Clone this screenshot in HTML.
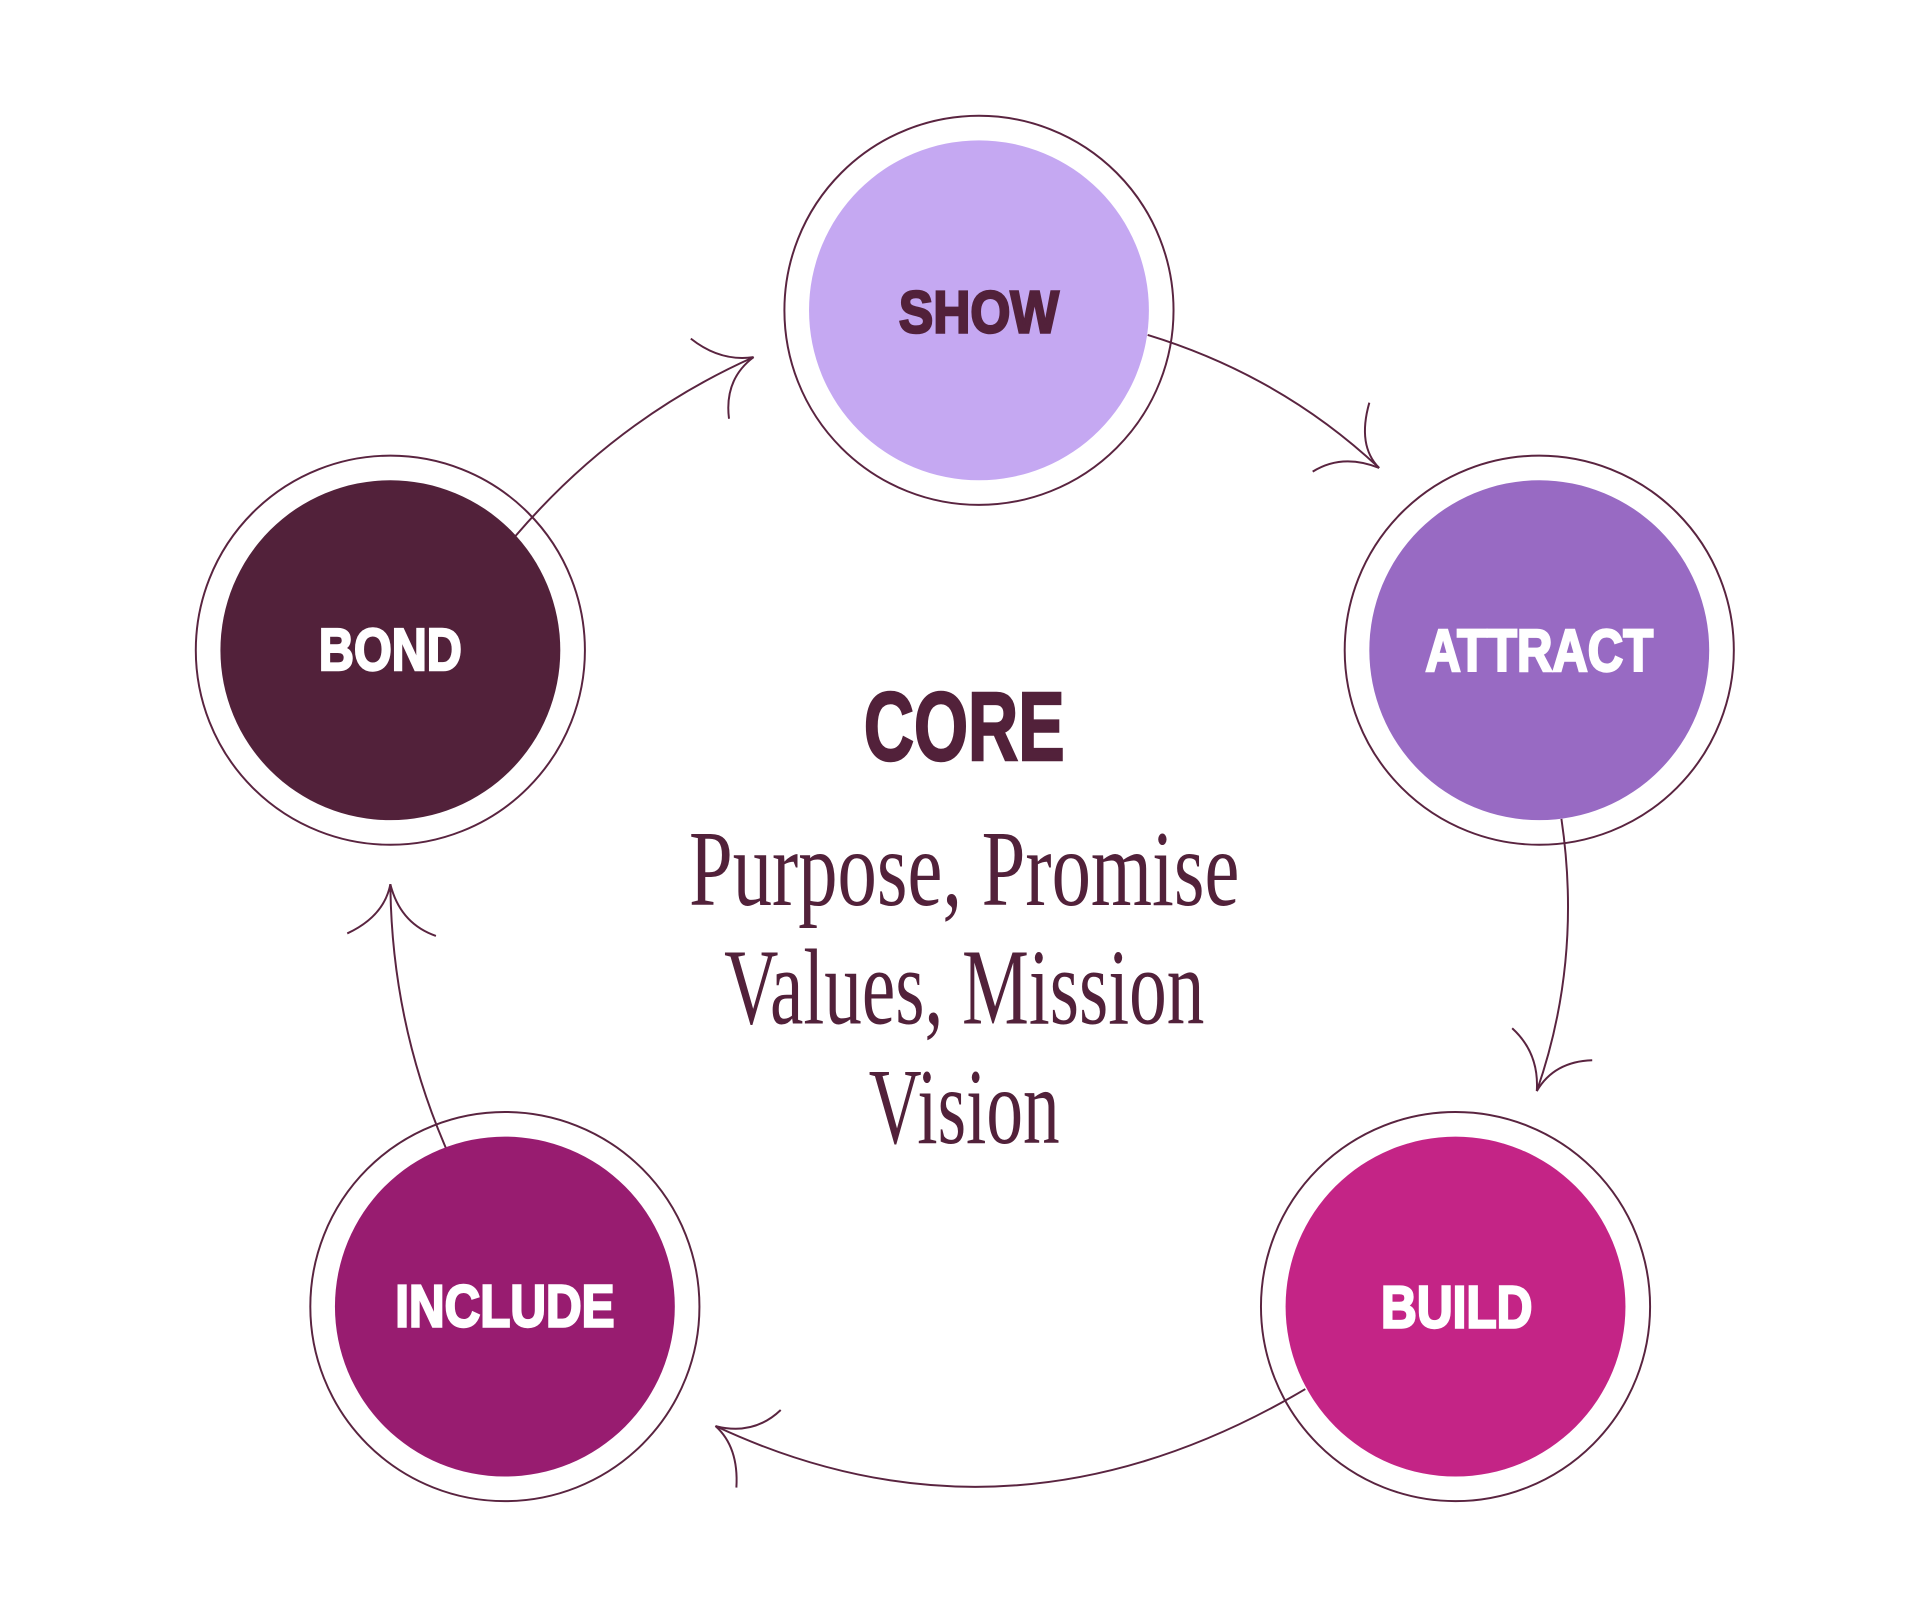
<!DOCTYPE html>
<html><head><meta charset="utf-8"><style>
html,body{margin:0;padding:0;background:#fff;}
svg{display:block;}
</style></head><body>
<svg width="1921" height="1610" viewBox="0 0 1560 1307.4" preserveAspectRatio="none" xmlns="http://www.w3.org/2000/svg">
<g fill="none" stroke="#5a2440" stroke-width="1.6">
  <circle cx="795" cy="252" r="158"/>
  <circle cx="317" cy="528" r="158"/>
  <circle cx="1250" cy="528" r="158"/>
  <circle cx="410" cy="1061" r="158"/>
  <circle cx="1182" cy="1061" r="158"/>
  <!-- connectors -->
  <path d="M932 272 Q1040 305 1120 380"/>
  <path d="M1112 327 Q1102 362 1120 380"/>
  <path d="M1066 383 Q1090 368 1120 380"/>
  <path d="M1268 665 Q1285 780 1248 886"/>
  <path d="M1228 835 Q1250 855 1248 886"/>
  <path d="M1293 861 Q1262 862 1248 886"/>
  <path d="M1060 1128 Q820 1270 581 1158"/>
  <path d="M634 1145 Q612 1166 581 1158"/>
  <path d="M598 1208 Q600 1175 581 1158"/>
  <path d="M362 932 Q318 830 317 718"/>
  <path d="M282 758 Q312 744 317 718"/>
  <path d="M354 760 Q325 750 317 718"/>
  <path d="M418 436 Q500 340 612 290"/>
  <path d="M561 275 Q585 294 612 290"/>
  <path d="M592 340 Q588 308 612 290"/>
</g>
<circle cx="795" cy="252" r="138" fill="#c5a8f2"/>
<circle cx="317" cy="528" r="138" fill="#52213a"/>
<circle cx="1250" cy="528" r="138" fill="#986ac3"/>
<circle cx="410" cy="1061" r="138" fill="#981c70"/>
<circle cx="1182" cy="1061" r="138" fill="#c42486"/>
<g font-family="Liberation Sans, sans-serif" font-weight="bold" font-size="48" text-anchor="middle" stroke-width="2" lengthAdjust="spacingAndGlyphs">
  <text x="795" y="270" fill="#52213a" stroke="#52213a" textLength="130" lengthAdjust="spacingAndGlyphs">SHOW</text>
  <text x="317" y="544" fill="#fff" stroke="#fff" textLength="116" lengthAdjust="spacingAndGlyphs">BOND</text>
  <text x="1250" y="545" fill="#fff" stroke="#fff" textLength="185" lengthAdjust="spacingAndGlyphs">ATTRACT</text>
  <text x="410" y="1077" fill="#fff" stroke="#fff" textLength="178" lengthAdjust="spacingAndGlyphs">INCLUDE</text>
  <text x="1183" y="1078" fill="#fff" stroke="#fff" textLength="123" lengthAdjust="spacingAndGlyphs">BUILD</text>
  <text x="783" y="617" fill="#52213a" stroke="#52213a" font-size="79" textLength="163" lengthAdjust="spacingAndGlyphs">CORE</text>
</g>
<g font-family="Liberation Serif, serif" font-size="88" fill="#52213a" text-anchor="middle">
  <text x="783" y="735" textLength="447" lengthAdjust="spacingAndGlyphs">Purpose, Promise</text>
  <text x="783" y="831" textLength="390" lengthAdjust="spacingAndGlyphs">Values, Mission</text>
  <text x="783" y="928" textLength="155" lengthAdjust="spacingAndGlyphs">Vision</text>
</g>
</svg>
</body></html>
